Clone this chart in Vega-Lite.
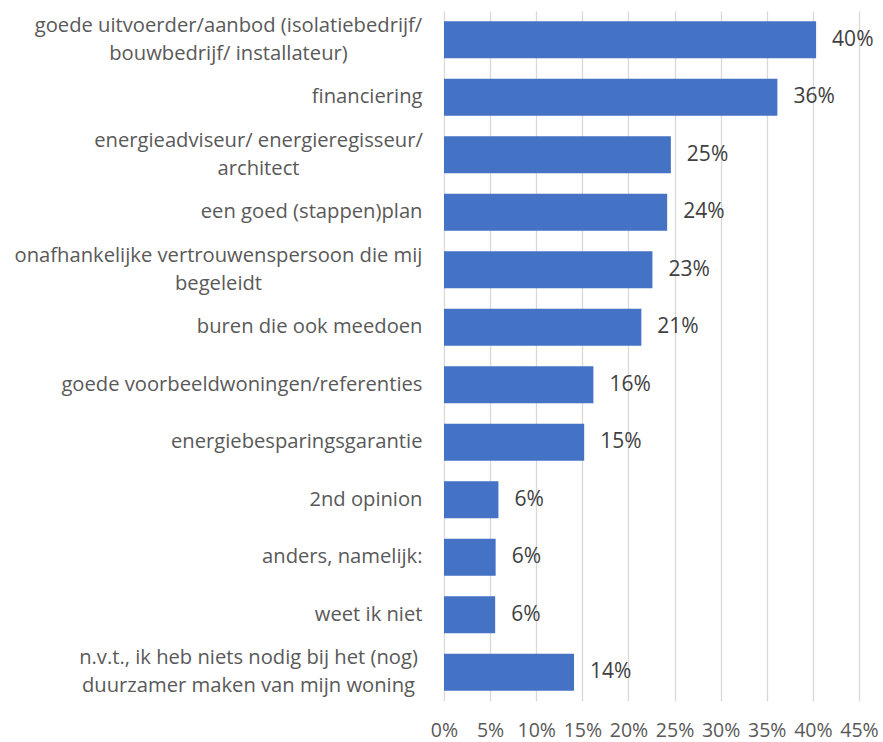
{
  "$schema": "https://vega.github.io/schema/vega-lite/v6.json",
  "width": 415,
  "height": 690,
  "autosize": {"type": "none"},
  "padding": {"left": 444, "top": 11, "right": 24, "bottom": 41},
  "background": "white",
  "config": {"view": {"stroke": null}},
  "data": {
    "values": [
      {"label": "goede uitvoerder/aanbod (isolatiebedrijf/|bouwbedrijf/ installateur)", "value": 0.4035},
      {"label": "financiering", "value": 0.3615},
      {"label": "energieadviseur/ energieregisseur/|architect", "value": 0.246},
      {"label": "een goed (stappen)plan", "value": 0.242},
      {"label": "onafhankelijke vertrouwenspersoon die mij|begeleidt", "value": 0.226},
      {"label": "buren die ook meedoen", "value": 0.214},
      {"label": "goede voorbeeldwoningen/referenties", "value": 0.162},
      {"label": "energiebesparingsgarantie", "value": 0.152},
      {"label": "2nd opinion", "value": 0.059},
      {"label": "anders, namelijk:", "value": 0.056},
      {"label": "weet ik niet", "value": 0.0555},
      {"label": "n.v.t., ik heb niets nodig bij het (nog)|duurzamer maken van mijn woning", "value": 0.141}
    ]
  },
  "encoding": {
    "y": {
      "field": "label",
      "type": "nominal",
      "sort": null,
      "scale": {"paddingInner": 0.36, "paddingOuter": 0.18},
      "axis": {
        "title": null,
        "labelExpr": "split(datum.label, '|')",
        "labelFont": "Open Sans",
        "labelFontSize": 20.2,
        "labelColor": "#595959",
        "labelLineHeight": 28,
        "labelPadding": {
          "condition": [
            {"test": "indexof(datum.value, 'goede uitvoerder') >= 0", "value": 216},
            {"test": "indexof(datum.value, 'energieadviseur') >= 0", "value": 186},
            {"test": "indexof(datum.value, 'onafhankelijke') >= 0", "value": 226},
            {"test": "indexof(datum.value, 'n.v.t.') >= 0", "value": 196}
          ],
          "value": 22
        },
        "labelAlign": {"condition": {"test": "indexof(datum.value, '|') >= 0", "value": "center"}, "value": "right"},
        "labelLimit": 440,
        "labelOffset": {"condition": {"test": "indexof(datum.value, '|') >= 0", "value": -14}, "value": 0},
        "ticks": false,
        "domain": false,
        "grid": false
      }
    },
    "x": {
      "field": "value",
      "type": "quantitative",
      "scale": {"domain": [0, 0.45], "nice": false},
      "axis": {
        "title": null,
        "format": ".0%",
        "values": [0, 0.05, 0.1, 0.15, 0.2, 0.25, 0.3, 0.35, 0.4, 0.45],
        "labelFont": "Open Sans",
        "labelFontSize": 19.5,
        "labelColor": "#595959",
        "labelPadding": 20,
        "labelOverlap": false,
        "labelFlush": false,
        "ticks": false,
        "domain": false,
        "grid": true,
        "gridColor": "#d9d9d9",
        "gridWidth": 1.3
      }
    }
  },
  "layer": [
    {"mark": {"type": "bar", "color": "#4472C4"}},
    {
      "mark": {"type": "text", "align": "left", "baseline": "middle", "dx": 16, "font": "Open Sans", "fontSize": 21, "color": "#404040"},
      "encoding": {"text": {"field": "value", "type": "quantitative", "format": ".0%"}}
    }
  ]
}
